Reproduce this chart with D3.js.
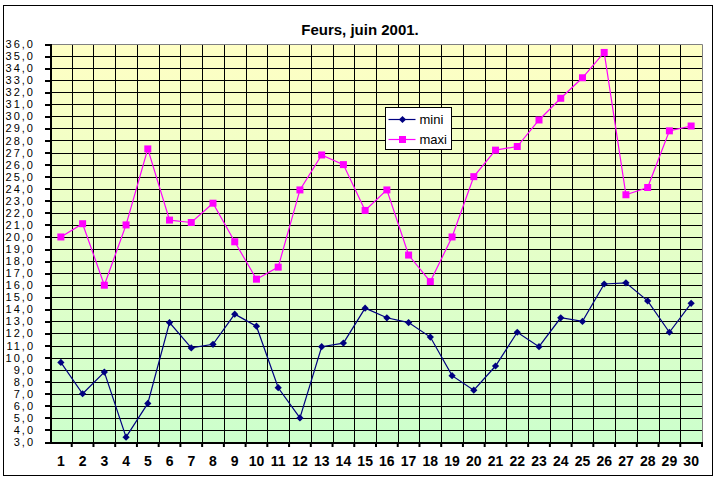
<!doctype html>
<html>
<head>
<meta charset="utf-8">
<title>Feurs, juin 2001.</title>
<script src="https://d3js.org/d3.v7.min.js"></script>
<style>
  body { margin: 0; background: #fff; }
  svg { display: block; font-family: "Liberation Sans", Arial, sans-serif; }
  .grid line { stroke: #000; stroke-width: 1; shape-rendering: crispEdges; }
  .yaxis text { font-size: 11px; letter-spacing: 2px; }
  .xaxis text { font-size: 14px; font-weight: bold; }
  .domain, .tick line { stroke: #000; shape-rendering: crispEdges; }
</style>
</head>
<body>
<svg width="720" height="480"></svg>
<script>
// data
var days = d3.range(1, 31);
var mini = [9.6, 7.0, 8.8, 3.4, 6.2, 12.9, 10.8, 11.1, 13.6, 12.6,
            7.5, 5.0, 10.9, 11.2, 14.1, 13.3, 12.9, 11.7, 8.5, 7.3,
            9.3, 12.1, 10.9, 13.3, 13.0, 16.1, 16.2, 14.7, 12.1, 14.5];
var maxi = [20.0, 21.1, 16.0, 21.0, 27.3, 21.4, 21.2, 22.8, 19.6, 16.5,
            17.5, 23.9, 26.8, 26.0, 22.2, 23.9, 18.5, 16.3, 20.0, 25.0,
            27.2, 27.5, 29.7, 31.5, 33.2, 35.3, 23.5, 24.1, 28.8, 29.2];
var yTicks = d3.range(3, 37);

var svg = d3.select("svg");
var pL = 50, pR = 702, pT = 44, pB = 442;

var x = d3.scaleBand().domain(days).range([pL, pR]);
var y = d3.scaleLinear().domain([3, 36]).range([pB, pT]);
var cx = function(d) { return x(d) + x.bandwidth() / 2; };

// outer frame
svg.append("rect")
  .attr("x", 3.5).attr("y", 5.5).attr("width", 709).attr("height", 470)
  .attr("fill", "#fff").attr("stroke", "#000");

svg.append("text")
  .attr("x", 360).attr("y", 35)
  .attr("text-anchor", "middle")
  .style("font-size", "15px").style("font-weight", "bold")
  .text("Feurs, juin 2001.");

// background gradient
var grad = svg.append("defs").append("linearGradient")
  .attr("id", "bg").attr("x1", 0).attr("y1", 0).attr("x2", 0).attr("y2", 1);
grad.append("stop").attr("offset", "0%").attr("stop-color", "#ffffc4");
grad.append("stop").attr("offset", "100%").attr("stop-color", "#ccffcc");

svg.append("rect")
  .attr("x", pL).attr("y", pT)
  .attr("width", pR - pL).attr("height", pB - pT)
  .attr("fill", "url(#bg)");

// grid
var grid = svg.append("g").attr("class", "grid");
grid.selectAll(".h").data(yTicks).enter().append("line")
  .attr("x1", pL).attr("x2", pR)
  .attr("y1", function(d) { return Math.round(y(d)) + 0.5; })
  .attr("y2", function(d) { return Math.round(y(d)) + 0.5; });
grid.selectAll(".v").data(days.slice(1)).enter().append("line")
  .attr("y1", pT).attr("y2", pB)
  .attr("x1", function(d) { return Math.round(x(d)) + 0.5; })
  .attr("x2", function(d) { return Math.round(x(d)) + 0.5; });

// plot border top/right in grey
svg.append("path")
  .attr("d", "M" + pL + "," + (pT + 0.5) + "H" + (pR + 0.5) + "V" + pB)
  .attr("fill", "none").attr("stroke", "#808080");

// axes
var yAxis = svg.append("g").attr("class", "yaxis")
  .attr("transform", "translate(" + pL + ",0)")
  .call(d3.axisLeft(y).tickValues(yTicks).tickSize(5).tickPadding(10)
    .tickFormat(function(d) { return d3.format(".1f")(d).replace(".", ","); }));
yAxis.select(".domain").attr("stroke-width", 2);
yAxis.selectAll(".tick line").attr("stroke-width", 2);

var xAxis = svg.append("g").attr("class", "xaxis")
  .attr("transform", "translate(0," + pB + ")")
  .call(d3.axisBottom(x).tickSize(0).tickPadding(14));
xAxis.select(".domain").attr("stroke-width", 2);

xAxis.selectAll(".sep").data(days.slice(1).concat([31])).enter().append("line")
  .attr("stroke", "#000").attr("stroke-width", 2)
  .attr("x1", function(d, i) { return i < 29 ? x(d) : pR; })
  .attr("x2", function(d, i) { return i < 29 ? x(d) : pR; })
  .attr("y1", 0).attr("y2", 5);

// series
var line = d3.line().x(function(d, i) { return cx(days[i]); }).y(function(d) { return y(d); });

svg.append("path").datum(maxi)
  .attr("d", line).attr("fill", "none").attr("stroke", "#ff00ff").attr("stroke-width", 1.2);
svg.append("path").datum(mini)
  .attr("d", line).attr("fill", "none").attr("stroke", "#000080").attr("stroke-width", 1.2);

var diamond = d3.symbol().type(d3.symbolSquare).size(26);
var square = d3.symbol().type(d3.symbolSquare).size(49);

svg.selectAll(".mx").data(maxi).enter().append("path")
  .attr("d", square)
  .attr("transform", function(d, i) { return "translate(" + cx(days[i]) + "," + y(d) + ")"; })
  .attr("fill", "#ff00ff");
svg.selectAll(".mn").data(mini).enter().append("path")
  .attr("d", diamond)
  .attr("transform", function(d, i) { return "translate(" + cx(days[i]) + "," + y(d) + ") rotate(45)"; })
  .attr("fill", "#000080");

// legend
var lg = svg.append("g").attr("transform", "translate(385.5,107.5)");
lg.append("rect").attr("width", 66).attr("height", 42)
  .attr("fill", "#fff").attr("stroke", "#000");
var items = [{name: "mini", color: "#000080", sym: diamond, rot: 45},
             {name: "maxi", color: "#ff00ff", sym: square, rot: 0}];
items.forEach(function(it, i) {
  var yy = 12 + i * 20;
  lg.append("line").attr("x1", 3).attr("x2", 30).attr("y1", yy).attr("y2", yy)
    .attr("stroke", it.color).attr("stroke-width", 1.2);
  lg.append("path").attr("d", it.sym)
    .attr("transform", "translate(17," + yy + ") rotate(" + it.rot + ")")
    .attr("fill", it.color);
  lg.append("text").attr("x", 34).attr("y", yy + 4.5)
    .style("font-size", "13px").text(it.name);
});
</script>
</body>
</html>
